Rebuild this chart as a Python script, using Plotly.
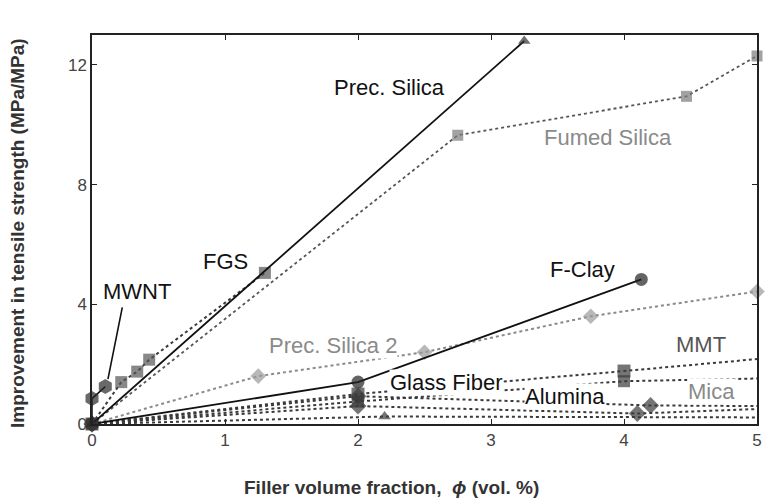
import plotly.graph_objects as go

# ---- data ----
prec_silica_x = [0, 3.25]
prec_silica_y = [0, 12.8]

fgs_x = [0, 0.22, 0.34, 0.43, 1.3]
fgs_y = [0, 1.4, 1.75, 2.15, 5.05]

fumed_x = [0, 2.75, 4.47, 5.0]
fumed_y = [0, 9.65, 10.95, 12.3]

mwnt_x = [0, 0, 0.1]
mwnt_y = [0, 0.85, 1.25]

fclay_x = [0, 2.0, 4.13]
fclay_y = [0, 1.4, 4.83]

prec2_x = [0, 1.25, 2.5, 3.75, 5.0]
prec2_y = [0, 1.6, 2.4, 3.6, 4.43]

mmt_x = [0, 2, 4, 5]
mmt_y = [0, 1.0, 1.77, 2.17]

mica_x = [0, 2, 4, 5]
mica_y = [0, 0.75, 1.43, 1.52]

glass_x = [0, 2, 4.2, 5]
glass_y = [0, 0.93, 0.62, 0.6]

alumina_x = [0, 2, 4.1, 5]
alumina_y = [0, 0.6, 0.35, 0.5]

tri_x = [0, 2.2, 5]
tri_y = [0, 0.25, 0.22]

x_ticks = [0, 1, 2, 3, 4, 5]
y_ticks = [0, 4, 8, 12]

FONT = "Arial, Liberation Sans, sans-serif"
BLACK = "#111111"
DARK = "#3a3a3a"
GRAY = "#8a8a8a"

fig = go.Figure()

def add(x, y, color, dash, width, symbol, msize, mcolor, hide_last=False):
    sizes = [msize] * len(x)
    if hide_last:
        sizes[-1] = 0
    fig.add_trace(go.Scatter(
        x=x, y=y, mode="lines+markers",
        line=dict(color=color, dash=dash, width=width),
        marker=dict(symbol=symbol, size=sizes, color=mcolor,
                    line=dict(width=0)),
        cliponaxis=False, showlegend=False, hoverinfo="skip"))

# bottom cluster
add(tri_x, tri_y, DARK, "dot", 2, "triangle-up", 11, DARK, True)
add(alumina_x, alumina_y, DARK, "dot", 2, "diamond", 13, DARK, True)
add(glass_x, glass_y, DARK, "dot", 2, "diamond", 13, DARK, True)
add(mica_x, mica_y, DARK, "dot", 2, "square", 12, DARK, True)
add(mmt_x, mmt_y, DARK, "dot", 2, "square", 13, DARK, True)
add(prec2_x, prec2_y, GRAY, "dot", 2, "diamond", 12, "#9a9a9a")
add(fclay_x, fclay_y, BLACK, "solid", 1.8, "circle", 13, "#222222")
add(fumed_x, fumed_y, "#555555", "dot", 1.8, "square", 11, "#7a7a7a")
add(fgs_x, fgs_y, DARK, "dot", 2, "square", 12, "#555555")
add(prec_silica_x, prec_silica_y, BLACK, "solid", 1.8, "triangle-up", 11, "#333333")
add(mwnt_x, mwnt_y, BLACK, "solid", 1.5, "hexagon", 15, "#2a2a2a")

LS = 22

def label(text, x, y, color, bg=None):
    fig.add_annotation(x=x, y=y, text=text, showarrow=False,
                       font=dict(family=FONT, size=LS, color=color),
                       bgcolor=bg if bg else "rgba(0,0,0,0)",
                       borderpad=0)

label("Prec. Silica", 2.24, 11.23, BLACK)
label("Fumed Silica", 3.88, 9.57, GRAY)
label("FGS", 1.0, 5.43, BLACK)
label("MWNT", 0.34, 4.43, BLACK)
label("F-Clay", 3.69, 5.17, BLACK)
label("Prec. Silica 2", 1.81, 2.63, GRAY, "white")
label("Glass Fiber", 2.66, 1.4, BLACK, "white")
label("Alumina", 3.56, 0.93, BLACK, "white")
label("MMT", 4.58, 2.67, "#555555", "white")
label("Mica", 4.66, 1.1, GRAY, "white")

# MWNT pointer
fig.add_annotation(x=0.12, y=1.5, ax=0.23, ay=3.95, axref="x", ayref="y",
                   xref="x", yref="y", text="", showarrow=True,
                   arrowhead=0, arrowwidth=1.6, arrowcolor=BLACK,
                   standoff=0, startstandoff=0)

# axis titles
fig.add_annotation(xref="paper", yref="paper", x=0.45, y=-0.162,
                   yanchor="middle",
                   text="<b>Filler volume fraction,  <i>ϕ</i> (vol. %)</b>",
                   showarrow=False,
                   font=dict(family=FONT, size=19, color="#333333"))
fig.add_annotation(xref="paper", yref="paper", x=-0.112, y=0.49,
                   xanchor="center", yanchor="middle",
                   text="<b>Improvement in tensile strength (MPa/MPa)</b>",
                   textangle=-90, showarrow=False,
                   font=dict(family=FONT, size=19, color="#333333"))

axis_common = dict(showline=True, linecolor="#222222", linewidth=1.5,
                   mirror="ticks", ticks="inside", ticklen=5,
                   tickcolor="#222222", showgrid=False, zeroline=False,
                   tickfont=dict(family=FONT, size=17, color="#444444"))

fig.update_xaxes(range=[0, 5], tickvals=x_ticks,
                 ticktext=[str(v) for v in x_ticks], **axis_common)
fig.update_yaxes(range=[0, 13], tickvals=y_ticks,
                 ticktext=[str(v) for v in y_ticks], **axis_common)

fig.update_layout(width=766, height=502,
                  margin=dict(l=92, r=4, t=35, b=78),
                  paper_bgcolor="white", plot_bgcolor="white",
                  font=dict(family=FONT))

fig.write_html("out.html", config={"displayModeBar": False},
               post_script="document.body.style.margin='0';")
